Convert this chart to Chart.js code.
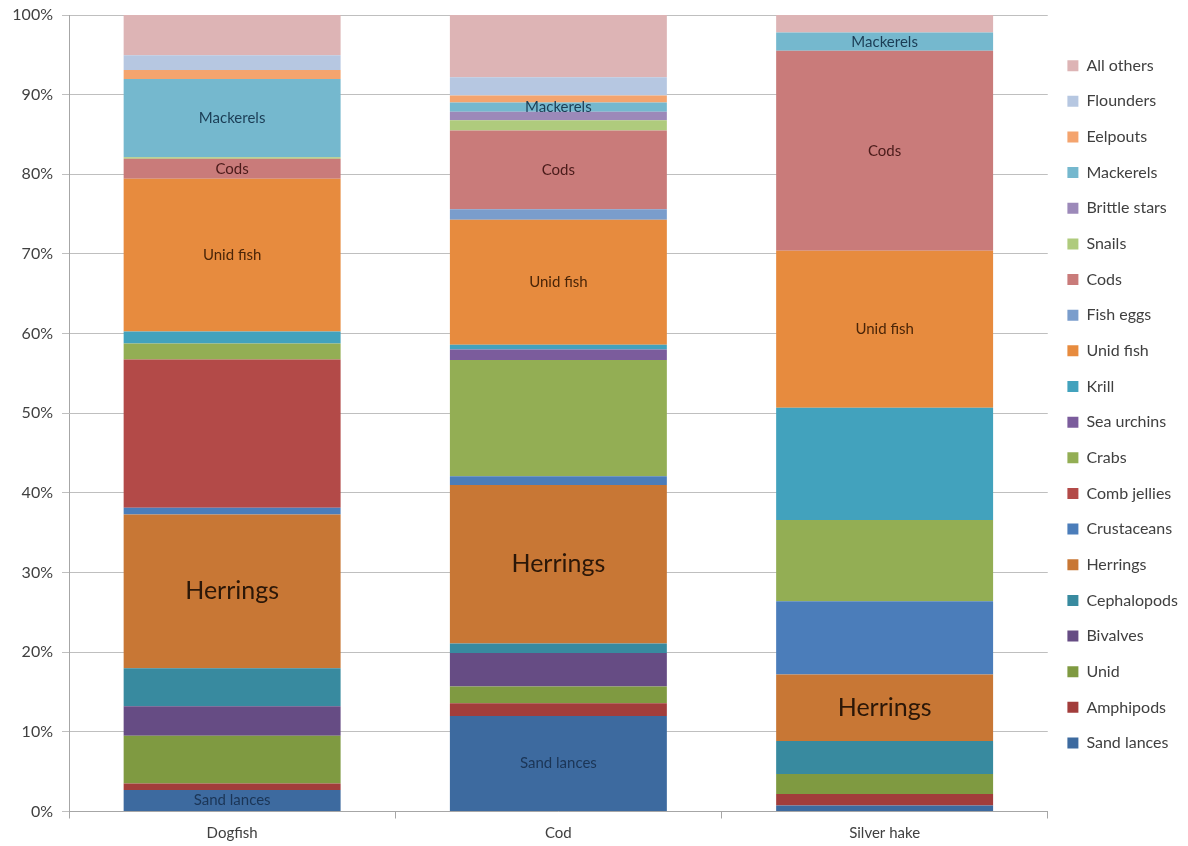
<!DOCTYPE html>
<html><head><meta charset="utf-8">
<script src="https://cdn.jsdelivr.net/npm/chart.js@4/dist/chart.umd.min.js"></script>
<style>html,body{margin:0;padding:0;background:#fff}#wrap{width:1188px;height:846px}</style>
</head><body><div id="wrap"><canvas id="c" width="1188" height="846"></canvas></div>
<script>
const categories = ['Dogfish', 'Cod', 'Silver hake'];
const yTickValues = [0, 10, 20, 30, 40, 50, 60, 70, 80, 90, 100];
const seriesNames = ['Sand lances','Amphipods','Unid','Bivalves','Cephalopods','Herrings','Crustaceans','Comb jellies','Crabs','Sea urchins','Krill','Unid fish','Fish eggs','Cods','Snails','Brittle stars','Mackerels','Eelpouts','Flounders','All others'];
const sandLances   = [2.7, 12.0, 0.75];
const amphipods    = [0.8, 1.6, 1.45];
const unid         = [6.0, 2.1, 2.5];
const bivalves     = [3.7, 4.2, 0];
const cephalopods  = [4.8, 1.2, 4.15];
const herrings     = [19.3, 19.9, 8.35];
const crustaceans  = [0.85, 1.1, 9.2];
const combJellies  = [18.6, 0, 0];
const crabs        = [2.0, 14.6, 10.2];
const seaUrchins   = [0, 1.3, 0];
const krill        = [1.5, 0.6, 14.1];
const unidFish     = [19.2, 15.7, 19.7];
const fishEggs     = [0, 1.3, 0];
const cods         = [2.5, 9.9, 25.1];
const snails       = [0.2, 1.3, 0];
const brittleStars = [0, 1.05, 0];
const mackerels    = [9.8, 1.15, 2.3];
const eelpouts     = [1.15, 0.9, 0];
const flounders    = [1.85, 2.3, 0];
const allOthers    = [5.05, 7.8, 2.2];
const seriesValues = [sandLances, amphipods, unid, bivalves, cephalopods, herrings, crustaceans, combJellies, crabs, seaUrchins, krill, unidFish, fishEggs, cods, snails, brittleStars, mackerels, eelpouts, flounders, allOthers];
const seriesColors = ['#3D6A9F','#A23D3B','#7F9A41','#664C84','#388A9F','#C87735','#4B7DBA','#B34A48','#93AE54','#7B5C9C','#42A2BD','#E78B3E','#7A9DCC','#C97B7A','#AFCB7D','#9C89B9','#75B8CE','#F4A46E','#B6C7E1','#DDB4B5'];
const segmentLabels = [
  ['Sand lances', 'Herrings', 'Unid fish', 'Cods', 'Mackerels'],
  ['Sand lances', 'Herrings', 'Unid fish', 'Cods', 'Mackerels'],
  ['Herrings', 'Unid fish', 'Cods', 'Mackerels']
];
const labelTextColors = {'Sand lances':'#1B3556','Herrings':'#2B1708','Unid fish':'#4A2508','Cods':'#4A1B1A','Mackerels':'#1B3D55'};
const labelFontSizes = {'Herrings':25};

const FONT = "Lato, 'Open Sans', sans-serif";

const segLabelPlugin = {
  id: 'segLabels',
  afterDatasetsDraw(chart) {
    const ctx = chart.ctx;
    ctx.save();
    ctx.textAlign = 'center';
    ctx.textBaseline = 'middle';
    chart.data.datasets.forEach((ds, i) => {
      const meta = chart.getDatasetMeta(i);
      meta.data.forEach((el, j) => {
        if (!segmentLabels[j].includes(ds.label)) return;
        const size = labelFontSizes[ds.label] || 15;
        ctx.font = size + 'px ' + FONT;
        ctx.fillStyle = labelTextColors[ds.label];
        ctx.fillText(ds.label, el.x, (el.y + el.base) / 2);
      });
    });
    ctx.restore();
  }
};

new Chart(document.getElementById('c'), {
  type: 'bar',
  data: {
    labels: categories,
    datasets: seriesNames.map((n, i) => ({
      label: n,
      data: seriesValues[i],
      backgroundColor: seriesColors[i],
      borderWidth: 0,
      barPercentage: 1,
      categoryPercentage: 0.665
    }))
  },
  options: {
    responsive: false,
    animation: false,
    layout: {padding: {left: 0, right: 0, top: 15, bottom: 0}},
    plugins: {
      tooltip: {enabled: false},
      legend: {
        position: 'right',
        reverse: true,
        align: 'start',
        title: {display: true, text: ' ', font: {size: 10}, padding: {top: 11, bottom: 0}},
        labels: {
          boxWidth: 11, boxHeight: 11,
          padding: 19.65,
          color: '#404040',
          font: {family: FONT, size: 16}
        }
      }
    },
    scales: {
      x: {
        stacked: true,
        grid: {display: true, drawOnChartArea: false, offset: true, tickLength: 7, color: '#A6A6A6'},
        border: {display: true, color: '#A6A6A6'},
        ticks: {color: '#404040', font: {family: FONT, size: 15}, padding: 6},
        afterFit: s => { s.height = 34.5; }
      },
      y: {
        stacked: true,
        min: 0, max: 100,
        afterBuildTicks: s => { s.ticks = yTickValues.map(v => ({value: v})); },
        grid: {color: '#BFBFBF', tickLength: 7},
        border: {display: true, color: '#A6A6A6'},
        ticks: {color: '#404040', font: {family: FONT, size: 16}, padding: 9, callback: v => v + '%'},
        afterFit: s => { s.width = 69; s.paddingTop = 0; s.paddingBottom = 0; }
      }
    }
  },
  plugins: [segLabelPlugin]
});
</script></body></html>
